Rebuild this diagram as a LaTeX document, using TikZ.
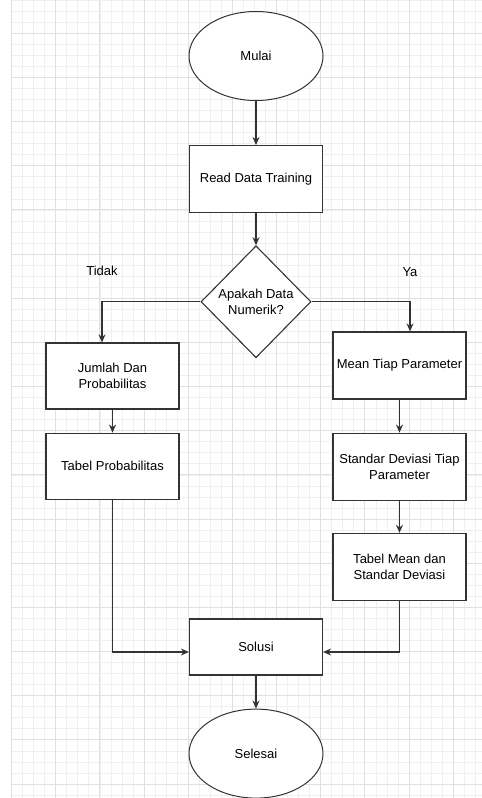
\documentclass[tikz,border=0pt]{standalone}
\usepackage{fontspec}
\setmainfont{Liberation Sans}
\usetikzlibrary{positioning,arrows.meta,shapes.geometric}

\definecolor{minorgrid}{HTML}{F0F0F0}
\definecolor{majorgrid}{HTML}{E0E0E0}
\definecolor{garis}{HTML}{333333}

\tikzset{
	proses/.style={draw=garis, fill=white, line width=1.2pt, minimum width=133pt, minimum height=67pt, inner sep=0pt, align=center},
	terminal/.style={ellipse, draw=garis, fill=white, line width=1pt, minimum width=134pt, minimum height=89pt, inner sep=0pt},
	keputusan/.style={diamond, draw=garis, fill=white, line width=1.1pt, minimum width=110pt, minimum height=112pt, inner sep=0pt, align=center},
	panah/.style={draw=garis, line width=1.3pt, -{Stealth[length=8pt,width=7pt]}},
}

\begin{document}
\begin{tikzpicture}[x=1pt, y=-1pt, font=\fontsize{13}{16.5}\selectfont]
			\useasboundingbox (0,0) rectangle (482,798);
			\foreach \i in {0,...,42} \draw[minorgrid, line width=0.8pt] ({11.6+11.04*\i},0) -- ++(0,798);
			\foreach \j in {0,...,72} \draw[minorgrid, line width=0.8pt] (11,{0.2+11.04*\j}) -- (482,{0.2+11.04*\j});
			\foreach \i in {0,...,10} \draw[majorgrid, line width=0.9pt] ({11.6+44.16*\i},0) -- ++(0,798);
			\foreach \j in {0,...,17} \draw[majorgrid, line width=0.9pt] (11,{33.3+44.16*\j}) -- (482,{33.3+44.16*\j});
			
			\node (mulai)   [terminal] at (256,56) {Mulai};
			\node (read)    [proses, below=44pt of mulai] {Read Data Training};
			\node (cek)     [keputusan, below=32pt of read] {Apakah Data\\Numerik?};
			
			\node (jumlah)  [proses, minimum height=66pt] at (112.5,376) {Jumlah Dan\\Probabilitas};
			\node (tabprob) [proses, minimum height=66pt, below=23pt of jumlah] {Tabel Probabilitas};
			
			\node (mean)    [proses] at (399.5,365.5) {Mean Tiap Parameter};
			\node (std)     [proses, below=33pt of mean] {Standar Deviasi Tiap\\Parameter};
			\node (tabmean) [proses, below=32pt of std] {Tabel Mean dan\\Standar Deviasi};
			
			\node (solusi)  [proses, minimum height=56pt] at (256,647) {Solusi};
			\node (selesai) [terminal, below=33pt of solusi] {Selesai};
			
			\node (tidak) at (102,271) {Tidak};
			\node (ya)    at (410,272) {Ya};
			
			\draw[panah] (mulai) -- (read);
			\draw[panah] (read) -- (cek);
			\draw[panah] (cek.west) -| ([xshift=-10.5pt]jumlah.north);
			\draw[panah] (cek.east) -| ([xshift=10.5pt]mean.north);
			\draw[panah] (jumlah) -- (tabprob);
			\draw[panah] (mean) -- (std);
			\draw[panah] (std) -- (tabmean);
			\draw[panah] (tabprob) |- ([yshift=-5pt]solusi.west);
			\draw[panah] (tabmean) |- ([yshift=-5pt]solusi.east);
			\draw[panah] (solusi) -- (selesai);
		\end{tikzpicture}
\end{document}
